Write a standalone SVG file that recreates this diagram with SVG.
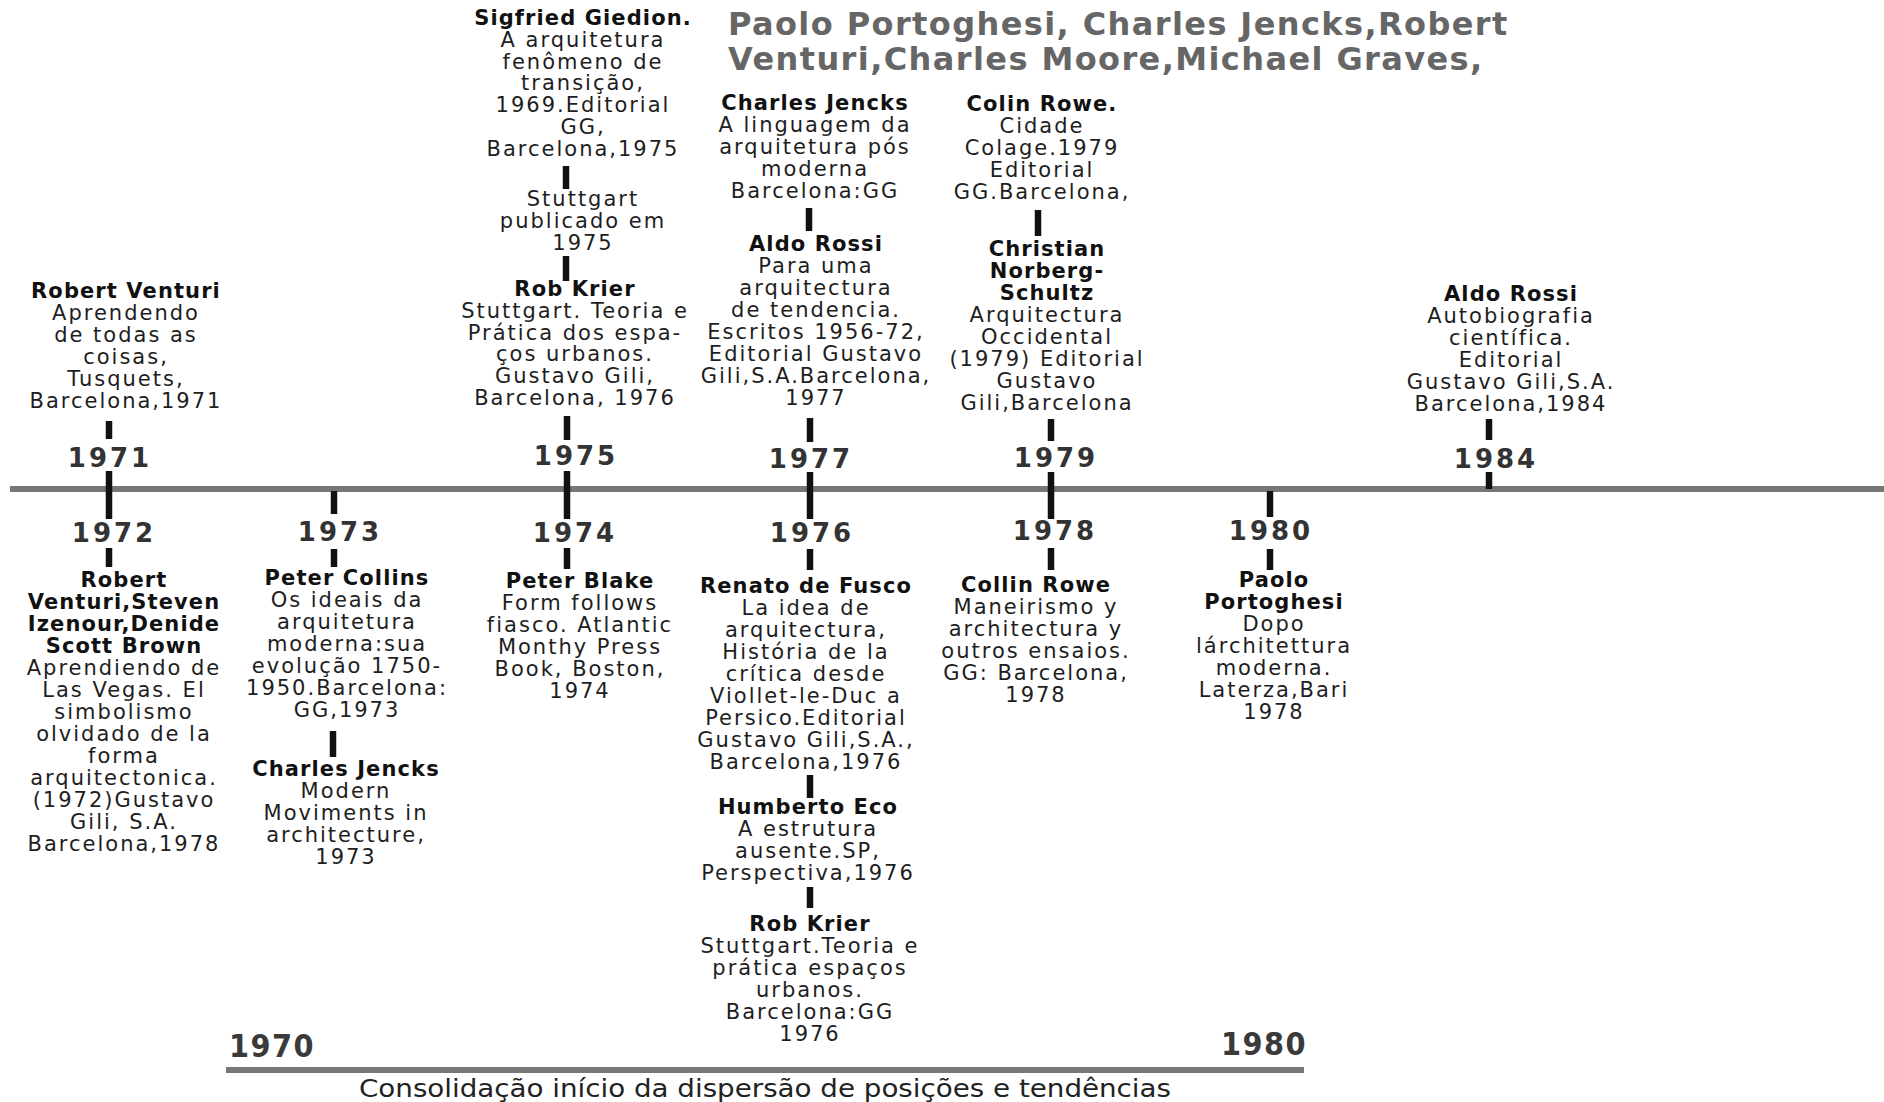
<svg xmlns="http://www.w3.org/2000/svg" width="1884" height="1102" viewBox="0 0 1884 1102">
<style>
text{font-family:"DejaVu Sans","Liberation Sans",sans-serif;text-anchor:middle}
.t{font-size:21px;letter-spacing:2px;fill:#1e1e1e}
.b{font-weight:bold;letter-spacing:1.1px;fill:#111}
.y{font-size:26px;font-weight:bold;letter-spacing:3px;fill:#333}
.hd{font-size:32px;font-weight:bold;letter-spacing:1.4px;fill:#666;text-anchor:start}
.by{font-family:"DejaVu Sans Condensed","DejaVu Sans",sans-serif;font-size:32px;font-weight:bold;letter-spacing:1.5px;fill:#3a3a3a}
.cap{font-family:"DejaVu Sans Condensed","DejaVu Sans",sans-serif;font-size:24px;fill:#222}
.tick{stroke:#111;stroke-width:6.5}
.axis{stroke:#777;stroke-width:6}
</style>
<rect width="1884" height="1102" fill="#fff"/>
<g id="axes">
<line class="axis" x1="10" y1="489" x2="1884" y2="489"/>
<line class="axis" x1="226" y1="1070" x2="1304" y2="1070" stroke="#808080"/>
</g>
<g id="connectors">
<line class="tick" x1="109" y1="421" x2="109" y2="439"/>
<line class="tick" x1="109" y1="471" x2="109" y2="519"/>
<line class="tick" x1="109" y1="548" x2="109" y2="567"/>
<line class="tick" x1="334" y1="491" x2="334" y2="514"/>
<line class="tick" x1="334" y1="549" x2="334" y2="567"/>
<line class="tick" x1="333" y1="731" x2="333" y2="757"/>
<line class="tick" x1="566" y1="166" x2="566" y2="189"/>
<line class="tick" x1="566" y1="256" x2="566" y2="281"/>
<line class="tick" x1="567" y1="416" x2="567" y2="440"/>
<line class="tick" x1="567" y1="471" x2="567" y2="519"/>
<line class="tick" x1="567" y1="548" x2="567" y2="569"/>
<line class="tick" x1="809" y1="208" x2="809" y2="231"/>
<line class="tick" x1="810" y1="418" x2="810" y2="442"/>
<line class="tick" x1="810" y1="472" x2="810" y2="519"/>
<line class="tick" x1="810" y1="549" x2="810" y2="570"/>
<line class="tick" x1="810" y1="775" x2="810" y2="798"/>
<line class="tick" x1="810" y1="887" x2="810" y2="908"/>
<line class="tick" x1="1038" y1="210" x2="1038" y2="236"/>
<line class="tick" x1="1051" y1="419" x2="1051" y2="441"/>
<line class="tick" x1="1051" y1="472" x2="1051" y2="519"/>
<line class="tick" x1="1051" y1="548" x2="1051" y2="570"/>
<line class="tick" x1="1270" y1="491" x2="1270" y2="517"/>
<line class="tick" x1="1270" y1="549" x2="1270" y2="570"/>
<line class="tick" x1="1489" y1="419" x2="1489" y2="440"/>
<line class="tick" x1="1489" y1="472" x2="1489" y2="489"/>
</g>
<g id="header">
<text class="hd" x="728" y="35">Paolo Portoghesi, Charles Jencks,Robert</text>
<text class="hd" x="728" y="70">Venturi,Charles Moore,Michael Graves,</text>
</g>
<g id="years">
<text class="y" x="110" y="467">1971</text>
<text class="y" x="114" y="542">1972</text>
<text class="y" x="340" y="541">1973</text>
<text class="y" x="576" y="465">1975</text>
<text class="y" x="575" y="542">1974</text>
<text class="y" x="811" y="468">1977</text>
<text class="y" x="812" y="542">1976</text>
<text class="y" x="1056" y="467">1979</text>
<text class="y" x="1055" y="540">1978</text>
<text class="y" x="1271" y="540">1980</text>
<text class="y" x="1496" y="468">1984</text>
</g>
<g id="n1971">
<text class="t"><tspan class="b" x="126" y="298">Robert Venturi</tspan><tspan x="126" y="320">Aprendendo</tspan><tspan x="126" y="342">de todas as</tspan><tspan x="126" y="364">coisas,</tspan><tspan x="126" y="386">Tusquets,</tspan><tspan x="126" y="408">Barcelona,1971</tspan></text>
</g>
<g id="n1972">
<text class="t"><tspan class="b" x="124" y="587">Robert</tspan><tspan class="b" x="124" y="609">Venturi,Steven</tspan><tspan class="b" x="124" y="631">Izenour,Denide</tspan><tspan class="b" x="124" y="653">Scott Brown</tspan><tspan x="124" y="675">Aprendiendo de</tspan><tspan x="124" y="697">Las Vegas. El</tspan><tspan x="124" y="719">simbolismo</tspan><tspan x="124" y="741">olvidado de la</tspan><tspan x="124" y="763">forma</tspan><tspan x="124" y="785">arquitectonica.</tspan><tspan x="124" y="807">(1972)Gustavo</tspan><tspan x="124" y="829">Gili, S.A.</tspan><tspan x="124" y="851">Barcelona,1978</tspan></text>
</g>
<g id="n1973a">
<text class="t"><tspan class="b" x="347" y="585">Peter Collins</tspan><tspan x="347" y="607">Os ideais da</tspan><tspan x="347" y="629">arquitetura</tspan><tspan x="347" y="651">moderna:sua</tspan><tspan x="347" y="673">evolução 1750-</tspan><tspan x="347" y="695">1950.Barcelona:</tspan><tspan x="347" y="717">GG,1973</tspan></text>
</g>
<g id="n1973b">
<text class="t"><tspan class="b" x="346" y="776">Charles Jencks</tspan><tspan x="346" y="798">Modern</tspan><tspan x="346" y="820">Moviments in</tspan><tspan x="346" y="842">architecture,</tspan><tspan x="346" y="864">1973</tspan></text>
</g>
<g id="n1975a">
<text class="t"><tspan class="b" x="583" y="25">Sigfried Giedion.</tspan><tspan x="583" y="47">A arquitetura</tspan><tspan x="583" y="69">fenômeno de</tspan><tspan x="583" y="90">transição,</tspan><tspan x="583" y="112">1969.Editorial</tspan><tspan x="583" y="134">GG,</tspan><tspan x="583" y="156">Barcelona,1975</tspan></text>
</g>
<g id="n1975b">
<text class="t"><tspan x="583" y="206">Stuttgart</tspan><tspan x="583" y="228">publicado em</tspan><tspan x="583" y="250">1975</tspan></text>
</g>
<g id="n1975c">
<text class="t"><tspan class="b" x="575" y="296">Rob Krier</tspan><tspan x="575" y="318">Stuttgart. Teoria e</tspan><tspan x="575" y="340">Prática dos espa-</tspan><tspan x="575" y="361">ços  urbanos.</tspan><tspan x="575" y="383">Gustavo Gili,</tspan><tspan x="575" y="405">Barcelona, 1976</tspan></text>
</g>
<g id="n1974">
<text class="t"><tspan class="b" x="580" y="588">Peter Blake</tspan><tspan x="580" y="610">Form follows</tspan><tspan x="580" y="632">fiasco. Atlantic</tspan><tspan x="580" y="654">Monthy Press</tspan><tspan x="580" y="676">Book, Boston,</tspan><tspan x="580" y="698">1974</tspan></text>
</g>
<g id="n1977a">
<text class="t"><tspan class="b" x="815" y="110">Charles Jencks</tspan><tspan x="815" y="132">A linguagem da</tspan><tspan x="815" y="154">arquitetura pós</tspan><tspan x="815" y="176">moderna</tspan><tspan x="815" y="198">Barcelona:GG</tspan></text>
</g>
<g id="n1977b">
<text class="t"><tspan class="b" x="816" y="251">Aldo Rossi</tspan><tspan x="816" y="273">Para uma</tspan><tspan x="816" y="295">arquitectura</tspan><tspan x="816" y="317">de tendencia.</tspan><tspan x="816" y="339">Escritos 1956-72,</tspan><tspan x="816" y="361">Editorial Gustavo</tspan><tspan x="816" y="383">Gili,S.A.Barcelona,</tspan><tspan x="816" y="405">1977</tspan></text>
</g>
<g id="n1976a">
<text class="t"><tspan class="b" x="806" y="593">Renato de Fusco</tspan><tspan x="806" y="615">La idea de</tspan><tspan x="806" y="637">arquitectura,</tspan><tspan x="806" y="659">História de la</tspan><tspan x="806" y="681">crítica desde</tspan><tspan x="806" y="703">Viollet-le-Duc a</tspan><tspan x="806" y="725">Persico.Editorial</tspan><tspan x="806" y="747">Gustavo Gili,S.A.,</tspan><tspan x="806" y="769">Barcelona,1976</tspan></text>
</g>
<g id="n1976b">
<text class="t"><tspan class="b" x="808" y="814">Humberto Eco</tspan><tspan x="808" y="836">A estrutura</tspan><tspan x="808" y="858">ausente.SP,</tspan><tspan x="808" y="880">Perspectiva,1976</tspan></text>
</g>
<g id="n1976c">
<text class="t"><tspan class="b" x="810" y="931">Rob Krier</tspan><tspan x="810" y="953">Stuttgart.Teoria e</tspan><tspan x="810" y="975">prática espaços</tspan><tspan x="810" y="997">urbanos.</tspan><tspan x="810" y="1019">Barcelona:GG</tspan><tspan x="810" y="1041">1976</tspan></text>
</g>
<g id="n1979a">
<text class="t"><tspan class="b" x="1042" y="111">Colin Rowe.</tspan><tspan x="1042" y="133">Cidade</tspan><tspan x="1042" y="155">Colage.1979</tspan><tspan x="1042" y="177">Editorial</tspan><tspan x="1042" y="199">GG.Barcelona,</tspan></text>
</g>
<g id="n1979b">
<text class="t"><tspan class="b" x="1047" y="256">Christian</tspan><tspan class="b" x="1047" y="278">Norberg-</tspan><tspan class="b" x="1047" y="300">Schultz</tspan><tspan x="1047" y="322">Arquitectura</tspan><tspan x="1047" y="344">Occidental</tspan><tspan x="1047" y="366">(1979) Editorial</tspan><tspan x="1047" y="388">Gustavo</tspan><tspan x="1047" y="410">Gili,Barcelona</tspan></text>
</g>
<g id="n1978">
<text class="t"><tspan class="b" x="1036" y="592">Collin Rowe</tspan><tspan x="1036" y="614">Maneirismo y</tspan><tspan x="1036" y="636">architectura y</tspan><tspan x="1036" y="658">outros ensaios.</tspan><tspan x="1036" y="680">GG: Barcelona,</tspan><tspan x="1036" y="702">1978</tspan></text>
</g>
<g id="n1980">
<text class="t"><tspan class="b" x="1274" y="587">Paolo</tspan><tspan class="b" x="1274" y="609">Portoghesi</tspan><tspan x="1274" y="631">Dopo</tspan><tspan x="1274" y="653">lárchitettura</tspan><tspan x="1274" y="675">moderna.</tspan><tspan x="1274" y="697">Laterza,Bari</tspan><tspan x="1274" y="719">1978</tspan></text>
</g>
<g id="n1984">
<text class="t"><tspan class="b" x="1511" y="301">Aldo Rossi</tspan><tspan x="1511" y="323">Autobiografia</tspan><tspan x="1511" y="345">científica.</tspan><tspan x="1511" y="367">Editorial</tspan><tspan x="1511" y="389">Gustavo Gili,S.A.</tspan><tspan x="1511" y="411">Barcelona,1984</tspan></text>
</g>
<g id="period">
<text class="by" x="272" y="1057">1970</text>
<text class="by" x="1264" y="1055">1980</text>
<text class="cap" x="765" y="1097" textLength="812" lengthAdjust="spacingAndGlyphs">Consolidação início da dispersão de posições e tendências</text>
</g>
</svg>
